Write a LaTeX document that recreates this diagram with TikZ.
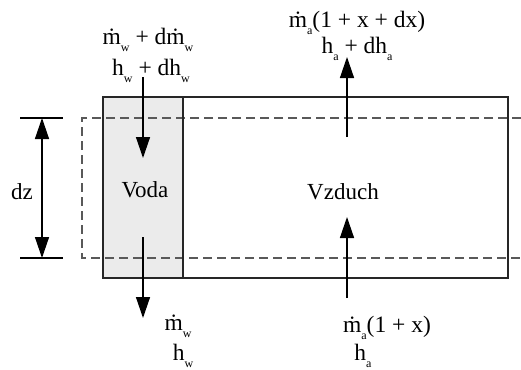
\documentclass[tikz,border=0pt]{standalone}
\usepackage{fontspec}
\setmainfont{Liberation Serif}
\usetikzlibrary{arrows.meta}
\newcommand\lsub[1]{\raisebox{-7pt}{\fontsize{12}{12}\selectfont #1}}
\newcommand\md{\.{m}}
\begin{document}
\begin{tikzpicture}[x=1pt,y=-1pt,
  solid line/.style={line width=1.6pt,draw=black!85},
  dash line/.style={line width=2pt,draw=black!65,dash pattern=on 9pt off 5pt},
  flow/.style={line width=1.4pt,-{Triangle[length=21pt,width=14pt]}},
  lbl/.style={inner sep=0pt,anchor=base,font=\fontsize{23.5}{24}\selectfont},
  txt/.style={inner sep=0pt,font=\fontsize{23}{24}\selectfont}]
\useasboundingbox (0,0) rectangle (521,369);
% water column
\fill[gray!16] (103,97) rectangle (183,278);
% dashed control volume
\draw[dash line] (521,118) -- (82,118) -- (82,258) -- (521,258);
% solid duct
\draw[solid line] (103,97) rectangle (508,278);
\draw[solid line] (183,97) -- (183,278);
% dz dimension
\coordinate (dzt) at (42,118);
\coordinate (dzb) at (42,258);
\draw[line width=1.3pt] (20,118) -- (63,118);
\draw[line width=1.3pt] (20,258) -- (63,258);
\draw[line width=1.4pt,{Triangle[length=21pt,width=14pt]}-{Triangle[length=21pt,width=14pt]}] (dzt) -- (dzb);
\node[txt] (dz) at (22,192) {dz};
% texts
\node[txt] (voda) at (145,190) {Voda};
\node[txt] (vzduch) at (343,192) {Vzduch};
% water arrows
\coordinate (w1s) at (143,77);
\coordinate (w1e) at (143,158);
\coordinate (w2s) at (143,237);
\coordinate (w2e) at (143,318);
\draw[flow] (w1s) -- (w1e);
\draw[flow] (w2s) -- (w2e);
% air arrows
\coordinate (a1s) at (347,137);
\coordinate (a1e) at (347,57);
\coordinate (a2s) at (347,298);
\coordinate (a2e) at (347,217);
\draw[flow] (a1s) -- (a1e);
\draw[flow] (a2s) -- (a2e);
% labels
\node[lbl] (lw1) at (148,45) {\md\lsub{w} + d\md\lsub{w}};
\node[lbl] (lw2) at (151,75) {h\lsub{w} + dh\lsub{w}};
\node[lbl] (la1) at (357,28) {\md\lsub{a}(1 + x + dx)};
\node[lbl] (la2) at (357,53) {h\lsub{a} + dh\lsub{a}};
\node[lbl] (lw3) at (178,330) {\md\lsub{w}};
\node[lbl] (lw4) at (183,360) {h\lsub{w}};
\node[lbl] (la3) at (387,332) {\md\lsub{a}(1 + x)};
\node[lbl] (la4) at (363,360) {h\lsub{a}};
\end{tikzpicture}
\end{document}
